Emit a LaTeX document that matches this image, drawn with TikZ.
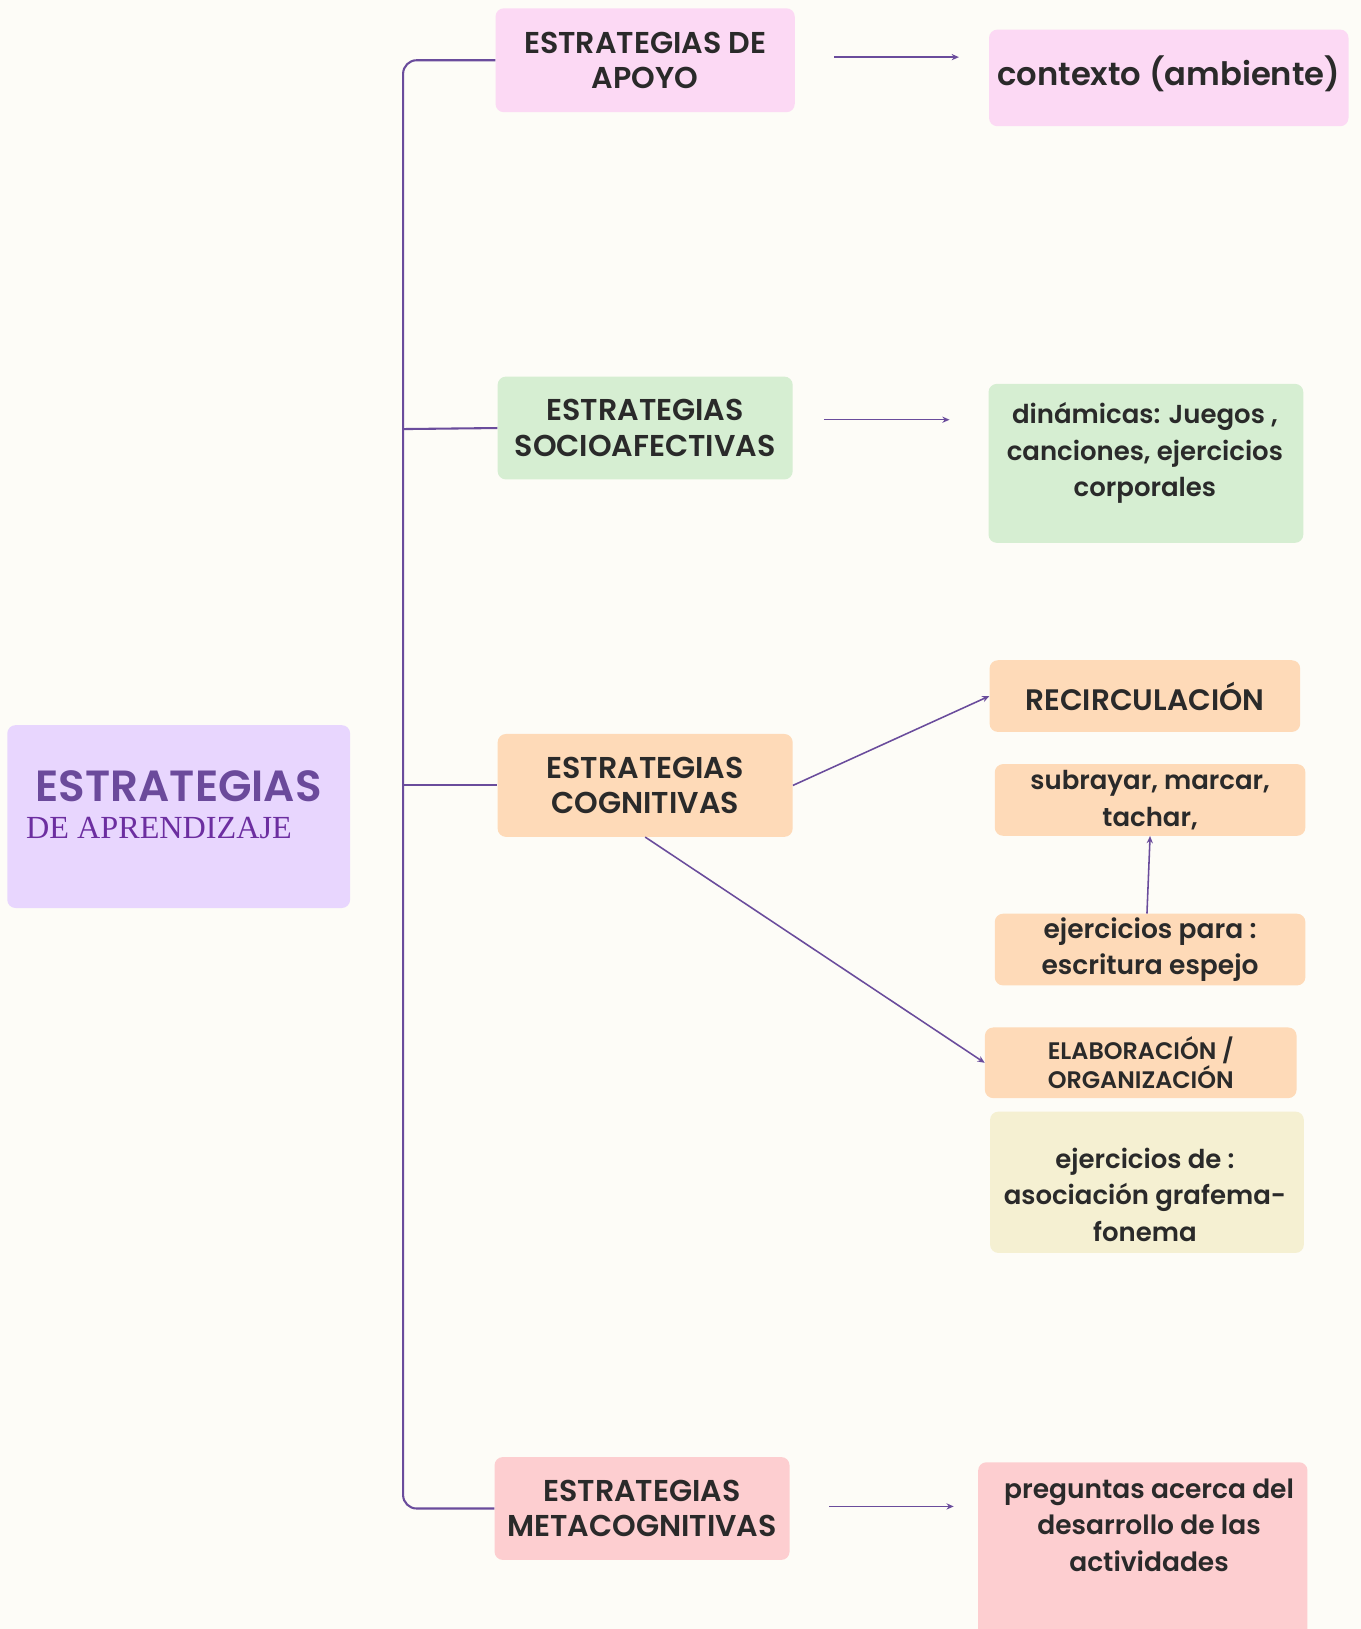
\documentclass[tikz,border=0pt]{standalone}
\usepackage{fontspec}
\setmainfont{Poppins}[BoldFont={Poppins SemiBold}]
\newfontfamily\serifx{Liberation Serif}
\usetikzlibrary{arrows.meta}
\definecolor{bgc}{HTML}{FDFCF7}
\definecolor{lav}{HTML}{E8D6FE}
\definecolor{purp}{HTML}{6B4A9B}
\definecolor{purp2}{HTML}{6C2EA0}
\definecolor{pinkc}{HTML}{FCD9F4}
\definecolor{greenc}{HTML}{D6EED2}
\definecolor{peach}{HTML}{FEDAB8}
\definecolor{yellowc}{HTML}{F5F0D2}
\definecolor{rosec}{HTML}{FDCED0}
\definecolor{linec}{HTML}{6A4C9C}
\definecolor{txt}{HTML}{2A2A2A}
\tikzset{
  box/.style={rounded corners=8pt, inner sep=0pt, align=center, text=txt, draw=none},
  big/.style={font={\fontsize{29}{34}\selectfont\bfseries}},
  conn/.style={draw=linec, line width=2pt},
  arr/.style={draw=linec, line width=1.5pt, -{Stealth[length=7pt,width=6pt]}},
}
\begin{document}
\begin{tikzpicture}[x=1pt,y=-1pt]
\fill[bgc] (0,0) rectangle (1310,1568);
\useasboundingbox (0,0) rectangle (1310,1568);

% main
\node[box, fill=lav, minimum width=330, minimum height=176] (main) at (172,786) {};
\node[text=purp, font={\fontsize{42}{44}\selectfont\bfseries}, inner sep=0pt] (mainA) at (172,757) {ESTRATEGIAS};
\node[text=purp2, font={\serifx\fontsize{31}{36}\selectfont}, inner sep=0pt, anchor=base west] (mainB) at (25,807) {DE APRENDIZAJE};

% level 1
\node[box, big, fill=pinkc, minimum width=288, minimum height=100] (apoyo) at (621,58) {ESTRATEGIAS DE\\APOYO};
\node[box, big, fill=greenc, minimum width=284, minimum height=99] (socio) at (621,412) {ESTRATEGIAS\\SOCIOAFECTIVAS};
\node[box, big, fill=peach, minimum width=284, minimum height=99] (cogn) at (621,756) {ESTRATEGIAS\\COGNITIVAS};
\node[box, big, fill=rosec, minimum width=284, minimum height=99] (meta) at (618,1452) {ESTRATEGIAS\\METACOGNITIVAS};

% level 2
\node[box, fill=pinkc, minimum width=346, minimum height=93] (ctx) at (1125,75) {};
\node[text=txt, inner sep=0pt, font={\fontsize{31}{36}\selectfont\bfseries}] (ctxtxt) at (1125,71) {contexto (ambiente)};
\node[box, fill=greenc, minimum width=303, minimum height=153] (din) at (1103,446) {};
\node[text=txt, align=center, inner sep=0pt, font={\fontsize{25}{35}\selectfont\bfseries}] (dintxt) at (1102,436) {dinámicas: Juegos ,\\canciones, ejercicios\\corporales};
\node[box, fill=peach, minimum width=299, minimum height=69, font={\fontsize{28.5}{34}\selectfont\bfseries}] (recirc) at (1102,670) {RECIRCULACIÓN};
\node[box, fill=peach, minimum width=299, minimum height=69, font={\fontsize{25}{35}\selectfont\bfseries}] (subr) at (1107,770) {subrayar, marcar,\\tachar,};
\node[box, fill=peach, minimum width=299, minimum height=69, font={\fontsize{25.5}{35}\selectfont\bfseries}] (ejp) at (1107,914) {ejercicios para :\\escritura espejo};
\node[box, fill=peach, minimum width=300, minimum height=68, font={\fontsize{23}{28}\selectfont\bfseries}] (elab) at (1098,1023) {ELABORACIÓN /\\ORGANIZACIÓN};
\node[box, fill=yellowc, minimum width=302, minimum height=136] (asoc) at (1104,1138) {};
\node[text=txt, align=center, inner sep=0pt, font={\fontsize{25}{35}\selectfont\bfseries}] (asoctxt) at (1102,1150) {ejercicios de :\\asociación grafema-\\fonema};
\node[box, fill=rosec, minimum width=317, minimum height=175] (preg) at (1100,1495) {};
\node[text=txt, align=center, inner sep=0pt, font={\fontsize{25.5}{35}\selectfont\bfseries}] (pregtxt) at (1106,1468) {preguntas acerca del\\desarrollo de las\\actividades};

% trunk
\coordinate (tTop) at (388,58);
\coordinate (tBot) at (388,1452);
\coordinate (tSoc) at (388,413);
\coordinate (tCog) at (388,756);
\draw[conn, rounded corners=13pt] (apoyo.west) -- (tTop) -- (tBot) -- (meta.west);
\draw[conn] (tSoc) -- (socio.west);
\draw[conn] (tCog) -- (cogn.west);

% free arrows
\coordinate (a1s) at (803,55); \coordinate (a1e) at (923,55);
\coordinate (a2s) at (793,404); \coordinate (a2e) at (914,404);
\coordinate (a3s) at (798,1450); \coordinate (a3e) at (918,1450);
\draw[arr] (a1s) -- (a1e);
\draw[arr] (a2s) -- (a2e);
\draw[arr] (a3s) -- (a3e);

% cognitive arrows
\draw[arr] (cogn.east) -- (recirc.west);
\draw[arr] (cogn.south) -- (elab.west);
\draw[arr] ([xshift=-3pt]ejp.north) -- (subr.south);
\end{tikzpicture}
\end{document}
